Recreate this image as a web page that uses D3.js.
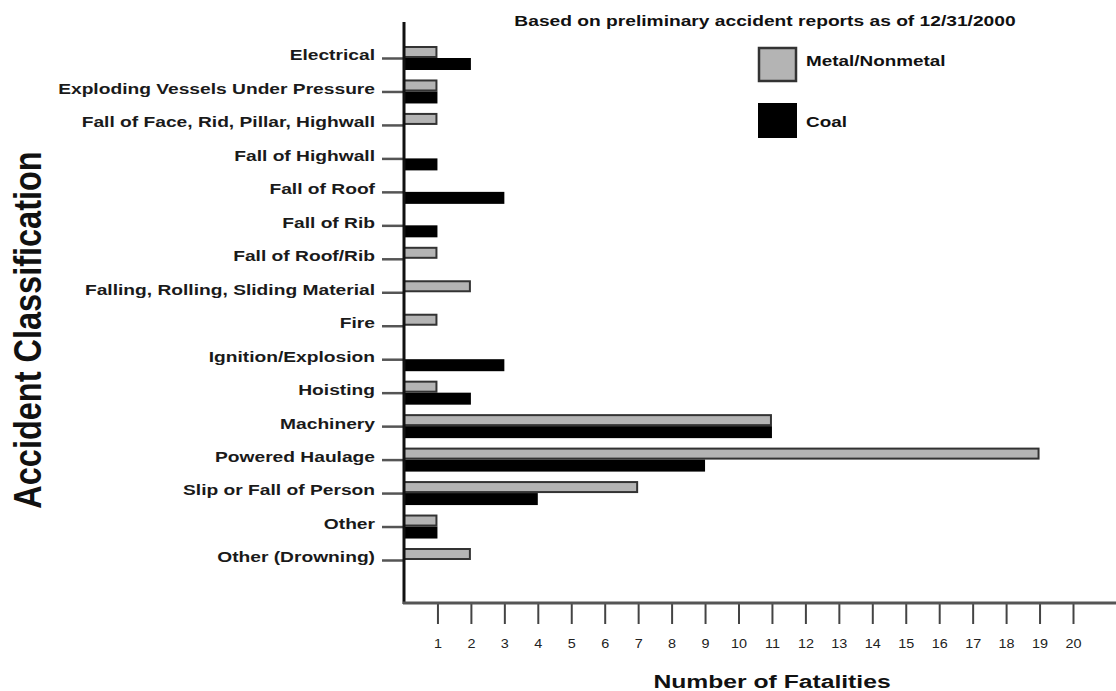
<!DOCTYPE html>
<html><head><meta charset="utf-8">
<script src="https://cdn.jsdelivr.net/npm/d3@7"></script>
<style>body{margin:0;background:#fff}svg{display:block}text{font-family:"Liberation Sans",Arial,sans-serif}</style>
</head><body><svg id="c" width="1116" height="691"></svg>
<script>
const categories = ["Electrical","Exploding Vessels Under Pressure","Fall of Face, Rid, Pillar, Highwall","Fall of Highwall","Fall of Roof","Fall of Rib","Fall of Roof/Rib","Falling, Rolling, Sliding Material","Fire","Ignition/Explosion","Hoisting","Machinery","Powered Haulage","Slip or Fall of Person","Other","Other (Drowning)"];
const metalNonmetal = [1,1,1,null,null,null,1,2,1,null,1,11,19,7,1,2];
const coal = [2,1,null,1,3,1,null,null,null,3,2,11,9,4,1,null];
const xTicks = [1,2,3,4,5,6,7,8,9,10,11,12,13,14,15,16,17,18,19,20];
const seriesNames = ["Metal/Nonmetal","Coal"];

const svg = d3.select("#c");
const x = d3.scaleLinear().domain([0,20]).range([404,1073]);
const y = d3.scalePoint().domain(categories).range([58,560]);
const bh = 12;

// horizontally stretched text helper
function stext(px, py, sx, txt, size, anchor){
  return svg.append("text").attr("transform",`translate(${px},${py}) scale(${sx},1)`)
    .attr("text-anchor",anchor||"start").attr("font-size",size).attr("font-weight","bold").attr("fill","#111").text(txt);
}

// bars
const g = svg.append("g");
categories.forEach((c,i)=>{
  if(metalNonmetal[i]!=null){
    g.append("rect").attr("x",x(0)).attr("y",y(c)-bh+1).attr("width",x(metalNonmetal[i])-x(0)-1).attr("height",bh-2)
      .attr("fill","#b4b4b4").attr("stroke","#333").attr("stroke-width",2);
  }
  if(coal[i]!=null){
    g.append("rect").attr("x",x(0)).attr("y",y(c)).attr("width",x(coal[i])-x(0)).attr("height",bh)
      .attr("fill","#000");
  }
});

// y axis
const ySx = 1.24;
const yAxis = d3.axisLeft(y).tickSize(22).tickPadding(6);
const ya = svg.append("g").attr("transform","translate(404,0)").call(yAxis);
ya.select(".domain").remove();
ya.selectAll(".tick line").attr("stroke","#555").attr("stroke-width",2.5);
ya.selectAll(".tick text").attr("font-size",15.5).attr("font-weight","bold").attr("fill","#1a1a1a").attr("dy","0.12em")
  .attr("transform",`scale(${ySx},1)`).attr("x",-29/ySx);
svg.append("line").attr("x1",404).attr("x2",404).attr("y1",22).attr("y2",604).attr("stroke","#111").attr("stroke-width",3);

// x axis
const xSx = 1.2;
const xAxis = d3.axisBottom(x).tickValues(xTicks).tickSize(21).tickPadding(15).tickFormat(d3.format("d"));
const xa = svg.append("g").attr("transform","translate(0,603)").call(xAxis);
xa.select(".domain").remove();
xa.selectAll(".tick line").attr("stroke","#444").attr("stroke-width",2);
xa.selectAll(".tick text").attr("font-size",12).attr("fill","#222").attr("transform",`scale(${xSx},1)`);
svg.append("line").attr("x1",403).attr("x2",1116).attr("y1",603).attr("y2",603).attr("stroke","#555").attr("stroke-width",3);

// titles
stext(772, 688, 1.3, "Number of Fatalities", 19, "middle");
svg.append("text").attr("transform","translate(41,330) rotate(-90) scale(1,1.2)").attr("text-anchor","middle")
  .attr("font-size",32.5).attr("font-weight","bold").attr("fill","#111").text("Accident Classification");
stext(765, 26, 1.28, "Based on preliminary accident reports as of 12/31/2000", 15, "middle");

// legend
svg.append("rect").attr("x",759).attr("y",48).attr("width",37).attr("height",33).attr("fill","#b4b4b4").attr("stroke","#333").attr("stroke-width",2.5);
svg.append("rect").attr("x",758).attr("y",103).attr("width",39).attr("height",35).attr("fill","#000");
stext(806, 66, 1.35, seriesNames[0], 14);
stext(806, 127, 1.35, seriesNames[1], 14);
</script></body></html>
